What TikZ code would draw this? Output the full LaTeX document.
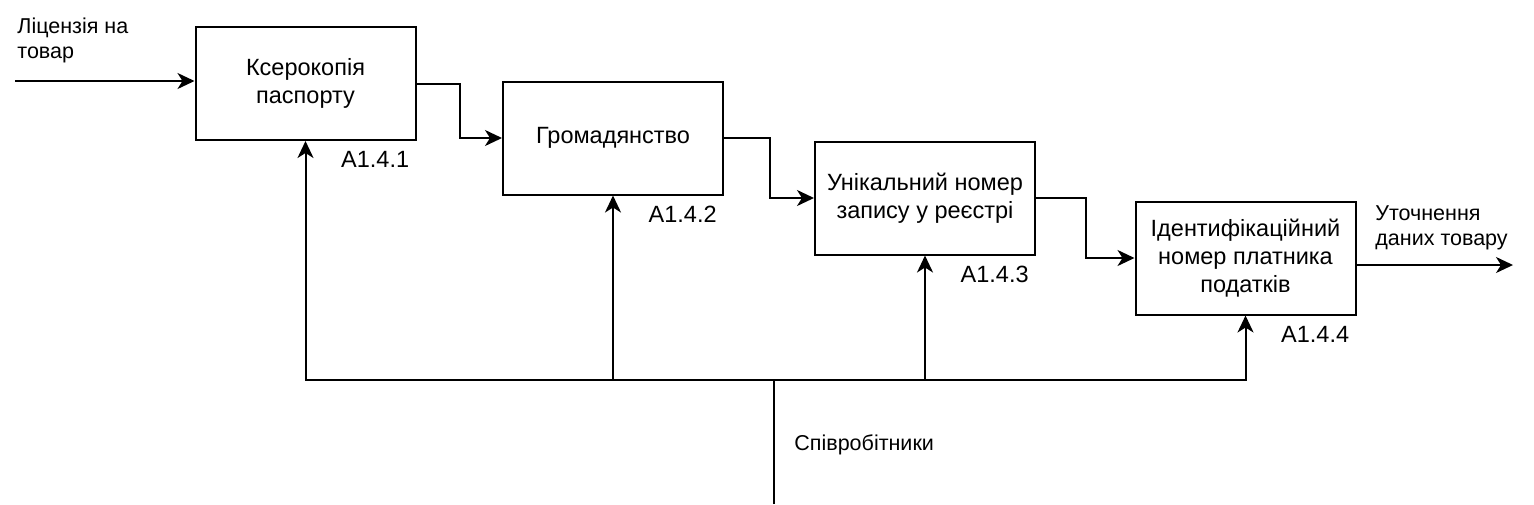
\documentclass[tikz,border=0pt]{standalone}
\usepackage{fontspec}
\setmainfont{Liberation Sans}
\usetikzlibrary{
  positioning,
  arrows.meta
}

\begin{document}
\begin{tikzpicture}[
  x=0.5pt, y=-0.5pt,
  every node/.style={align=center},
  funcbox/.style={
    rectangle, draw=black, line width=1pt,
    minimum width=110pt, minimum height=56.5pt,
    font=\fontsize{11.75pt}{14pt}\selectfont
  },
  boxid/.style={inner sep=0pt, font=\fontsize{11.75pt}{14pt}\selectfont},
  sidelbl/.style={inner sep=0pt, align=left, font=\fontsize{10.75pt}{12.5pt}\selectfont},
  arrow/.style={-{Stealth[length=8.5pt, width=8pt, inset=2.5pt]}, line width=1pt},
  plain/.style={line width=1pt}
]
 \useasboundingbox (0,0) rectangle (1534,504);

 % Function boxes -- stepping down to the right
 \node[funcbox] (b1) at ( 305.5,  83.5) {Ксерокопія\\паспорту};
 \node[funcbox] (b2) at ( 613.0, 138.0) {Громадянство};
 \node[funcbox] (b3) at ( 925.0, 198.0) {Унікальний номер\\запису у реєстрі};
 \node[funcbox] (b4) at (1245.5, 258.0) {Ідентифікаційний\\номер платника\\податків};

 % Box numbers
 \node[boxid, below left=5pt and 3.5pt of b1.south east] (n1) {A1.4.1};
 \node[boxid, below left=5pt and 3.5pt of b2.south east] (n2) {A1.4.2};
 \node[boxid, below left=5pt and 3.5pt of b3.south east] (n3) {A1.4.3};
 \node[boxid, below left=5pt and 3.5pt of b4.south east] (n4) {A1.4.4};

 % Input and output
 \coordinate (in)  at (  15,  81);
 \coordinate (out) at (1513, 265);
 \node[sidelbl, anchor=north west] (inlbl)  at (  17,  18) {Ліцензія на\\товар};
 \node[sidelbl, anchor=north west] (outlbl) at (1375, 205) {Уточнення\\даних товару};

 \draw[arrow] (in) -- (in -| b1.west);
 \draw[arrow] (b4.east |- out) -- (out);

 % Box to box
 \draw[arrow] (b1.east) -- ++(43,0) |- (b2.west);
 \draw[arrow] (b2.east) -- ++(46,0) |- (b3.west);
 \draw[arrow] (b3.east) -- ++(50,0) |- (b4.west);

 % Mechanism
 \coordinate (bus)   at (774, 380);
 \coordinate (staff) at (774, 504);
 \node[sidelbl, anchor=west] (stafflbl) at (794, 445) {Співробітники};

 \draw[plain] (staff) -- (bus);
 \draw[arrow, line cap=rect] (b1.south |- bus) -| (b4.south);
 \foreach \b in {b1,b2,b3}
  \draw[arrow, line cap=rect] (\b.south |- bus) -- (\b.south);
\end{tikzpicture}
\end{document}
